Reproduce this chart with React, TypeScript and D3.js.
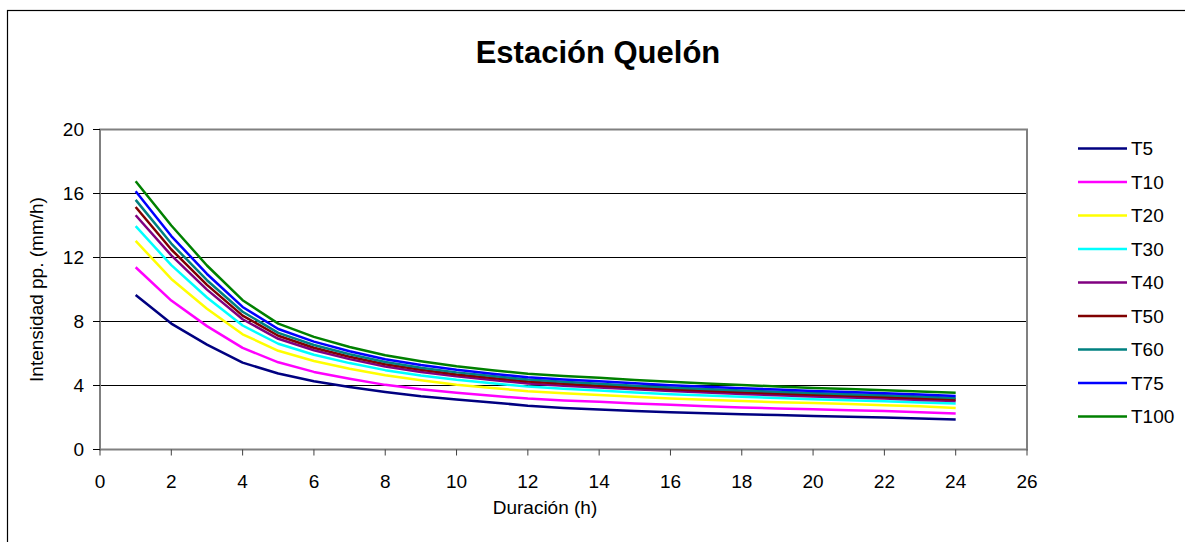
import React from "react";
import * as d3 from "d3";

// Duración (h)
const durations = [1, 2, 3, 4, 5, 6, 7, 8, 9, 10, 11, 12, 13, 14, 15, 16, 17, 18, 19, 20, 21, 22, 23, 24];

// Intensidad pp. (mm/h) por período de retorno
const T5 = [9.66, 7.87, 6.55, 5.43, 4.75, 4.27, 3.91, 3.6, 3.33, 3.12, 2.94, 2.74, 2.6, 2.5, 2.41, 2.33, 2.27, 2.2, 2.15, 2.1, 2.05, 2.0, 1.93, 1.87];
const T10 = [11.39, 9.31, 7.71, 6.35, 5.45, 4.85, 4.42, 4.04, 3.76, 3.54, 3.36, 3.18, 3.07, 2.98, 2.88, 2.8, 2.71, 2.63, 2.57, 2.51, 2.46, 2.4, 2.33, 2.25];
const T20 = [13.04, 10.66, 8.8, 7.2, 6.17, 5.53, 5.05, 4.64, 4.33, 4.04, 3.85, 3.64, 3.51, 3.4, 3.29, 3.19, 3.11, 3.03, 2.96, 2.9, 2.84, 2.77, 2.7, 2.6];
const T30 = [13.96, 11.52, 9.5, 7.75, 6.61, 5.92, 5.4, 4.96, 4.63, 4.36, 4.14, 3.93, 3.79, 3.68, 3.56, 3.46, 3.37, 3.29, 3.22, 3.14, 3.08, 3.01, 2.94, 2.88];
const T40 = [14.64, 12.13, 9.99, 8.14, 6.92, 6.2, 5.65, 5.19, 4.85, 4.57, 4.34, 4.13, 3.99, 3.88, 3.76, 3.65, 3.56, 3.47, 3.39, 3.32, 3.25, 3.18, 3.1, 3.03];
const T50 = [15.16, 12.5, 10.29, 8.37, 7.11, 6.36, 5.8, 5.33, 4.98, 4.69, 4.47, 4.25, 4.11, 3.99, 3.87, 3.76, 3.67, 3.58, 3.5, 3.42, 3.36, 3.28, 3.21, 3.12];
const T60 = [15.6, 12.87, 10.58, 8.61, 7.29, 6.53, 5.95, 5.47, 5.11, 4.82, 4.59, 4.37, 4.23, 4.11, 3.99, 3.88, 3.78, 3.69, 3.61, 3.53, 3.46, 3.39, 3.31, 3.22];
const T75 = [16.14, 13.34, 10.97, 8.91, 7.53, 6.74, 6.14, 5.64, 5.28, 4.98, 4.74, 4.52, 4.38, 4.27, 4.14, 4.02, 3.92, 3.83, 3.75, 3.66, 3.59, 3.52, 3.44, 3.35];
const T100 = [16.77, 14.0, 11.5, 9.33, 7.87, 7.04, 6.41, 5.89, 5.52, 5.2, 4.96, 4.74, 4.6, 4.48, 4.35, 4.23, 4.12, 4.03, 3.94, 3.85, 3.78, 3.7, 3.62, 3.54];

const seriesNames = ["T5", "T10", "T20", "T30", "T40", "T50", "T60", "T75", "T100"];
const seriesValues = [T5, T10, T20, T30, T40, T50, T60, T75, T100];
const seriesColors = ["#000080", "#FF00FF", "#FFFF00", "#00FFFF", "#800080", "#800000", "#008080", "#0000FF", "#008000"];

const xTicks = [0, 2, 4, 6, 8, 10, 12, 14, 16, 18, 20, 22, 24, 26];
const yTicks = [0, 4, 8, 12, 16, 20];

const W = 1185;
const H = 542;
const plot = { left: 100, top: 129.5, right: 1027, bottom: 449.5 };
const FONT = "'Liberation Sans', Arial, sans-serif";
const FS = 19;

export default function App() {
  const x = d3.scaleLinear().domain([0, 26]).range([plot.left, plot.right]);
  const y = d3.scaleLinear().domain([0, 20]).range([plot.bottom, plot.top]);
  const line = d3
    .line<number>()
    .x((_, i) => x(durations[i]))
    .y((v) => y(v));

  const legendX = 1078;
  const legendY0 = 148.5;
  const legendStep = 33.5;

  return (
    <div style={{ position: "fixed", left: 0, top: 0 }}>
      <svg width={W} height={H} style={{ display: "block", background: "#fff" }}>
        <rect x={7.5} y={10.5} width={W + 20} height={H + 20} fill="#fff" stroke="#000" strokeWidth={1.2} />

        <text x={598} y={63} textAnchor="middle" fontFamily={FONT} fontWeight="bold" fontSize={31}>
          Estación Quelón
        </text>

        {/* horizontal gridlines */}
        {yTicks
          .filter((t) => t > 0 && t < 20)
          .map((t) => (
            <line key={`g${t}`} x1={plot.left} x2={plot.right} y1={y(t)} y2={y(t)} stroke="#000" strokeWidth={1} />
          ))}

        {/* plot area frame */}
        <rect
          x={plot.left}
          y={plot.top}
          width={plot.right - plot.left}
          height={plot.bottom - plot.top}
          fill="none"
          stroke="#808080"
          strokeWidth={2}
        />

        {/* y axis ticks and labels */}
        {yTicks.map((t) => (
          <g key={`y${t}`}>
            <line x1={plot.left - 7} x2={plot.left} y1={y(t)} y2={y(t)} stroke="#000" strokeWidth={1} />
            <text x={84} y={y(t)} dy="0.35em" textAnchor="end" fontFamily={FONT} fontSize={FS}>
              {t}
            </text>
          </g>
        ))}

        {/* x axis ticks and labels */}
        {xTicks.map((t) => (
          <g key={`x${t}`}>
            <line x1={x(t)} x2={x(t)} y1={plot.bottom} y2={plot.bottom + 6} stroke="#404040" strokeWidth={1} />
            <text x={x(t)} y={488} textAnchor="middle" fontFamily={FONT} fontSize={FS}>
              {t}
            </text>
          </g>
        ))}

        <text x={545} y={514} textAnchor="middle" fontFamily={FONT} fontSize={FS}>
          Duración (h)
        </text>
        <text
          transform={`translate(43, ${(plot.top + plot.bottom) / 2}) rotate(-90)`}
          textAnchor="middle"
          fontFamily={FONT}
          fontSize={FS}
        >
          Intensidad pp. (mm/h)
        </text>

        {/* series */}
        {seriesValues.map((vals, i) => (
          <path
            key={seriesNames[i]}
            d={line(vals) || ""}
            fill="none"
            stroke={seriesColors[i]}
            strokeWidth={2.5}
            strokeLinejoin="round"
          />
        ))}

        {/* legend */}
        {seriesNames.map((name, i) => {
          const ly = legendY0 + i * legendStep;
          return (
            <g key={`l${name}`}>
              <line x1={legendX} x2={legendX + 49} y1={ly} y2={ly} stroke={seriesColors[i]} strokeWidth={2.5} />
              <text x={legendX + 53} y={ly} dy="0.35em" fontFamily={FONT} fontSize={FS}>
                {name}
              </text>
            </g>
          );
        })}
      </svg>
    </div>
  );
}
